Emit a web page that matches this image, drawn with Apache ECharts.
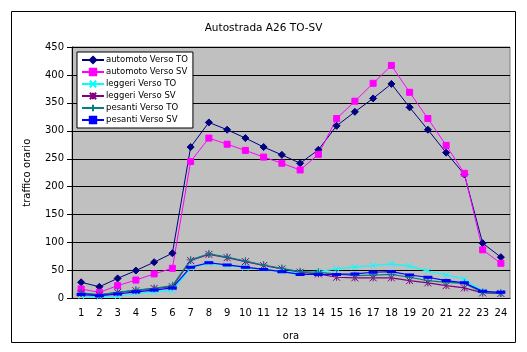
<!DOCTYPE html>
<html>
<head>
<meta charset="utf-8">
<script src="https://cdn.jsdelivr.net/npm/echarts@6/dist/echarts.min.js"></script>
<style>
    html, body { margin: 0; padding: 0; background: #fff; }
    #container-chart-line { width: 527px; height: 352px; }
</style>
</head>
<body>
<div id="container-chart-line"></div>
<script>
var ore = ['1','2','3','4','5','6','7','8','9','10','11','12','13','14','15','16','17','18','19','20','21','22','23','24'];
var automotoTO = [29,21,36,50,65,81,271,315,302,287,271,257,242,266,309,334,358,384,342,302,261,222,99,74];
var automotoSV = [17,11,23,33,44,54,245,287,276,265,253,242,230,258,322,353,385,417,369,322,274,224,87,63];
var leggeriTO = [4,3,4,9,12,14,55,63,59,55,52,49,46,48,53,56,59,62,58,49,42,35,13,10];
var leggeriSV = [9,6,11,14,18,21,68,79,73,66,59,53,47,44,38,37,37,37,32,28,23,19,10,9];
var pesantiTO = [10,7,11,15,18,23,69,80,74,67,60,54,48,47,44,41,42,43,38,32,29,27,11,10];
var pesantiSV = [7,5,8,12,15,19,56,64,60,56,52,48,43,43,43,44,47,48,42,38,32,28,13,11];
var yTicks = [0,50,100,150,200,250,300,350,400,450];

var myChart;
var font = 'DejaVu Sans';

function serie(name, data, color, symbol, size, lw) {
    return {
        name: name,
        type: 'line',
        data: data,
        symbol: symbol,
        symbolSize: size,
        showAllSymbol: true,
        animation: false,
        lineStyle: { color: color, width: lw },
        itemStyle: { color: color, borderColor: color, borderWidth: 1 }
    };
}

function myChartInit() {
    myChart = echarts.init(document.getElementById('container-chart-line'));
    var option = {
        backgroundColor: '#fff',
        textStyle: { fontFamily: font },
        title: {
            text: 'Autostrada A26 TO-SV',
            left: 'center',
            top: 18,
            textStyle: { fontFamily: font, fontSize: 10.5, fontWeight: 'normal', color: '#000' }
        },
        // cornice esterna del grafico
        graphic: [{
            type: 'rect',
            shape: { x: 11.5, y: 11.5, width: 504, height: 331 },
            style: { fill: 'none', stroke: '#000', lineWidth: 1 },
            silent: true
        }],
        legend: {
            orient: 'vertical',
            left: 77,
            top: 52,
            backgroundColor: '#fff',
            borderColor: '#000',
            borderWidth: 1,
            borderRadius: 0,
            padding: [3, 5, 3, 4],
            itemGap: 2,
            itemWidth: 22,
            itemHeight: 8,
            symbolKeepAspect: true,
            textStyle: { fontFamily: font, fontSize: 8.5, lineHeight: 10, color: '#000', padding: [0, 0, 0, -3] },
            data: ['automoto Verso TO','automoto Verso SV','leggeri Verso TO','leggeri Verso SV','pesanti Verso TO','pesanti Verso SV']
        },
        grid: {
            left: 72,
            right: 17,
            top: 47,
            bottom: 53.5,
            show: true,
            backgroundColor: '#c0c0c0',
            borderColor: '#808080',
            borderWidth: 1
        },
        xAxis: {
            type: 'category',
            data: ore,
            name: 'ora',
            nameLocation: 'middle',
            nameGap: 33,
            nameTextStyle: { fontFamily: font, fontSize: 10, color: '#000' },
            axisLine: { lineStyle: { color: '#000' } },
            axisTick: { length: 4, lineStyle: { color: '#000' } },
            axisLabel: { fontFamily: font, fontSize: 10, color: '#000', margin: 10, interval: 0 }
        },
        yAxis: {
            type: 'value',
            min: yTicks[0],
            max: yTicks[yTicks.length - 1],
            interval: 50,
            name: 'traffico orario',
            nameLocation: 'middle',
            nameGap: 40,
            nameTextStyle: { fontFamily: font, fontSize: 10, color: '#000' },
            axisLine: { show: true, lineStyle: { color: '#000' } },
            axisTick: { show: true, length: 5, lineStyle: { color: '#000' } },
            axisLabel: { fontFamily: font, fontSize: 10, color: '#000', margin: 8 },
            splitLine: { lineStyle: { color: '#000', width: 1 } }
        },
        series: [
            serie('automoto Verso TO', automotoTO, '#000080', 'diamond', 7, 1),
            serie('automoto Verso SV', automotoSV, '#ff00ff', 'rect', 6, 1),
            serie('leggeri Verso TO', leggeriTO, '#00ffff', 'path://M0,0L10,10M10,0L0,10', 6, 1.2),
            serie('leggeri Verso SV', leggeriSV, '#800080', 'path://M5,0L5,10M0,0L10,10M10,0L0,10', 7, 1.2),
            serie('pesanti Verso TO', pesantiTO, '#008080', 'path://M5,0L5,10M0,5L10,5', 8, 1.2),
            serie('pesanti Verso SV', pesantiSV, '#0000ff', 'path://M0,0L10,0L10,3L0,3Z', [6, 2], 1.2)
        ]
    };
    myChart.setOption(option);
}

myChartInit();
</script>
</body>
</html>
